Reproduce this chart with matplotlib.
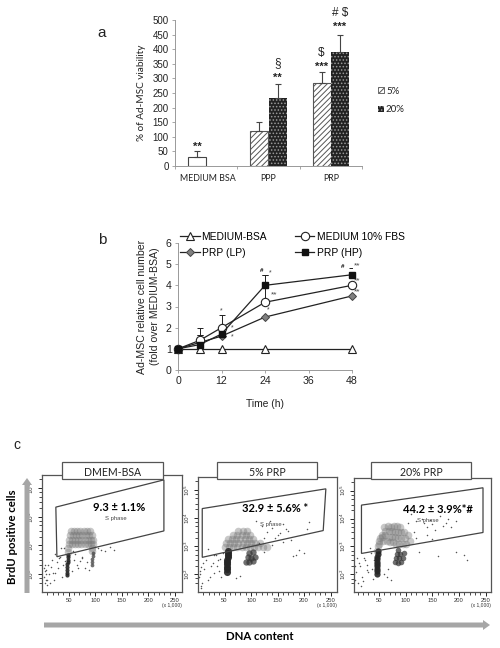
import matplotlib
matplotlib.use('Agg')
import matplotlib.pyplot as plt
from matplotlib.patches import Polygon, Rectangle, FancyArrow

W, H = 500, 648
plt.rcParams['font.family'] = ['Liberation Sans', 'DejaVu Sans']
plt.rcParams['hatch.linewidth'] = 0.7

# panel a
groups = ['MEDIUM BSA', 'PPP', 'PRP']
low_pos = [0, 1, 2]
low_vals = [30, 120, 283]
low_err = [20, 30, 40]
high_pos = [1, 2]
high_vals = [232, 390]
high_err = [50, 60]
a_marks = [(-0.147, 66, '**'), (1.147, 302, '**'), (1.853, 340, '***'), (2.147, 477, '***')]
a_signs = [(1.147, 353, '§'), (1.853, 387, '$'), (2.147, 524, '# $')]

# panel b
hours = [0, 6, 12, 24, 48]
bsa = [1, 1, 1, 1, 1]
fbs = [1, 1.4, 2, 3.2, 4]
lp = [1, 1.3, 1.6, 2.5, 3.5]
hp = [1, 1.2, 1.7, 4, 4.5]
fbs_err = [0, 0.6, 0.6, 1.3, 0]
lp_err = [0, 0.35, 0.2, 0, 0]
hp_err = [0, 0.45, 0, 0.5, 0.3]

# panel c, values (DNA x1000, log10 BrdU)
titles = ['DMEM-BSA', '5% PRP', '20% PRP']
labels = ['9.3 ± 1.1%', '32.9 ± 5.6% *', '44.2 ± 3.9%*#']
gate1 = [(26, 4.33), (229, 5.28), (229, 3.5), (28, 2.6)]
gate2 = [(8, 4.33), (241, 5.03), (236, 3.55), (8, 2.6)]
gate3 = [(17, 4.48), (245, 5.1), (245, 3.5), (17, 2.75)]
# S phase clouds
s1_x = [50, 56, 62, 68, 74, 80, 86, 92, 96,
        50, 56, 62, 68, 74, 80, 86, 92, 96,
        52, 58, 64, 70, 76, 82, 88, 94,
        54, 60, 66, 72, 78, 84, 90,
        49, 49, 94, 94]
s1_y = [3.05, 3.05, 3.05, 3.05, 3.05, 3.05, 3.05, 3.05, 3.05,
        3.2, 3.2, 3.2, 3.2, 3.2, 3.2, 3.2, 3.2, 3.2,
        3.35, 3.35, 3.35, 3.35, 3.35, 3.35, 3.35, 3.35,
        3.5, 3.5, 3.5, 3.5, 3.5, 3.5, 3.5,
        2.9, 2.75, 2.9, 2.8]
s2_x = [50, 58, 66, 74, 82, 90, 98, 106, 114, 122, 130,
        52, 60, 68, 76, 84, 92, 100, 108, 116,
        56, 64, 72, 80, 88, 96, 104,
        66, 74, 82, 90, 98,
        76, 84, 92]
s2_y = [2.95, 2.95, 2.95, 2.95, 2.95, 2.95, 2.95, 2.95, 2.95, 2.95, 2.95,
        3.1, 3.1, 3.1, 3.1, 3.1, 3.1, 3.1, 3.1, 3.1,
        3.25, 3.25, 3.25, 3.25, 3.25, 3.25, 3.25,
        3.4, 3.4, 3.4, 3.4, 3.4,
        3.52, 3.52, 3.52]
s3_x = [47, 48, 49, 50, 52, 55,
        58, 64, 70, 76, 82, 88, 94, 100,
        56, 62, 68, 74, 80, 86, 92, 98,
        62, 68, 74, 80, 86, 92, 96,
        72, 78, 84, 90,
        104, 108, 60, 66]
s3_y = [2.85, 3.0, 3.1, 3.2, 3.3, 3.35,
        3.2, 3.2, 3.15, 3.15, 3.1, 3.1, 3.1, 3.1,
        3.4, 3.4, 3.35, 3.35, 3.35, 3.3, 3.3, 3.3,
        3.55, 3.55, 3.55, 3.5, 3.5, 3.5, 3.5,
        3.68, 3.72, 3.72, 3.68,
        3.4, 3.2, 3.7, 3.75]
# G1 and G2 clusters
g1_x = [[47, 47, 47, 47, 47, 48, 48, 48, 49],
        [54, 54, 54, 55, 55, 55, 56, 56, 57, 57],
        [46, 46, 46, 46, 47, 47, 47, 47, 48, 48]]
g1_y = [[1.95, 2.05, 2.15, 2.25, 2.35, 2.42, 2.5, 2.58, 2.65],
        [2.08, 2.17, 2.26, 2.35, 2.44, 2.52, 2.6, 2.68, 2.76, 2.84],
        [2.02, 2.12, 2.2, 2.3, 2.38, 2.46, 2.55, 2.64, 2.73, 2.84]]
g2_x = [[93, 94, 94, 95, 96], [91, 97, 103, 94, 100, 108, 96, 104], [80, 86, 92, 82, 88, 94, 84, 90, 96, 86]]
g2_y = [[2.3, 2.42, 2.52, 2.62, 2.72], [2.45, 2.42, 2.48, 2.6, 2.58, 2.62, 2.75, 2.78], [2.45, 2.42, 2.45, 2.58, 2.58, 2.6, 2.72, 2.72, 2.75, 2.88]]
# sparse events
dots_x = [[3, 5, 7, 9, 12, 15, 18, 22, 25, 30, 34, 38, 42, 60, 66, 72, 80, 105, 118, 128, 135, 10, 20, 28, 36, 4, 7, 5, 6, 8, 13, 17, 24, 31, 40, 44, 56, 62, 68, 75, 84, 110, 100, 58, 76, 88],
          [2, 3, 4, 5, 6, 8, 10, 12, 16, 19, 22, 25, 28, 31, 34, 37, 40, 44, 120, 130, 150, 160, 185, 190, 200, 135, 145, 170, 6, 18, 30, 125, 175, 205, 110, 140, 155, 165, 210, 72, 80, 115, 125, 140, 160, 180, 36, 42, 48],
          [3, 4, 5, 7, 10, 12, 14, 16, 18, 21, 24, 27, 30, 34, 38, 40, 120, 130, 140, 150, 165, 175, 195, 210, 215, 125, 160, 8, 20, 28, 180, 195, 110, 115, 135, 145, 155, 170, 185, 65, 72, 105, 120, 140, 150, 33, 36, 60, 66]]
dots_y = [[1.9, 2.1, 2.0, 1.8, 2.3, 1.7, 2.5, 1.8, 2.7, 2.2, 2.6, 1.9, 2.9, 2.5, 2.3, 2.45, 2.2, 2.9, 2.8, 2.95, 2.85, 1.6, 2.05, 2.4, 2.9, 2.2, 1.8, 2.3, 1.7, 2.15, 2.0, 2.25, 2.05, 2.55, 2.3, 2.45, 2.1, 2.7, 2.2, 2.6, 2.4, 2.85, 2.95, 2.8, 2.55, 2.15],
          [1.9, 2.1, 2.0, 1.6, 2.25, 1.7, 2.4, 2.2, 2.5, 1.8, 1.9, 2.3, 2.4, 2.7, 2.7, 2.5, 2.1, 1.9, 3.7, 3.5, 3.4, 3.8, 2.7, 2.85, 2.75, 3.9, 3.3, 3.55, 1.5, 2.9, 2.05, 2.8, 3.2, 3.6, 3.9, 3.65, 3.45, 3.6, 3.85, 1.85, 1.95, 3.1, 3.3, 3.05, 3.15, 2.65, 2.3, 2.55, 2.75],
          [2.0, 1.8, 2.3, 2.1, 1.7, 2.4, 2.3, 1.6, 1.9, 2.6, 2.5, 2.15, 2.1, 2.75, 1.85, 2.5, 3.9, 4.0, 3.7, 3.8, 4.1, 3.85, 2.8, 2.7, 2.5, 2.8, 2.65, 2.6, 1.75, 2.35, 4.0, 3.9, 4.15, 3.5, 3.85, 3.95, 3.6, 3.75, 3.7, 1.9, 1.8, 3.85, 3.3, 3.4, 3.25, 2.95, 2.2, 2.0, 2.2]]

fig = plt.figure(figsize=(W / 100, H / 100), dpi=100, facecolor='white')


def px_axes(x0, y0, x1, y1):
    # y0 is the top edge, counted from the top of the picture
    return fig.add_axes([x0 / W, 1 - y1 / H, (x1 - x0) / W, (y1 - y0) / H])


# ---- panel a
ax = px_axes(175, 20, 362, 166)
ax.bar([p - 0.147 for p in low_pos[:1]], low_vals[:1], 0.29, color='white', edgecolor='#444444', lw=0.8)
ax.bar([p - 0.147 for p in low_pos[1:]], low_vals[1:], 0.29, color='white', edgecolor='#555555', hatch='//////', lw=0.8)
ax.bar([p + 0.147 for p in high_pos], high_vals, 0.29, color='#222222', edgecolor='#999999', hatch='.....', lw=0)
ax.errorbar([p - 0.147 for p in low_pos], low_vals, yerr=[[0, 0, 0], low_err], fmt='none', ecolor='#444444', elinewidth=0.8, capsize=2, capthick=0.8)
ax.errorbar([p + 0.147 for p in high_pos], high_vals, yerr=[[0, 0], high_err], fmt='none', ecolor='#444444', elinewidth=0.8, capsize=2, capthick=0.8)
ax.set_xlim(-0.5, 2.5)
ax.set_ylim(0, 500)
ax.set_yticks(range(0, 501, 50))
ax.set_xticks([-0.5, 0.5, 1.5, 2.5])
ax.set_xticklabels([])
ax.tick_params(axis='y', labelsize=7, length=2.5, width=0.6, color='#999999', pad=2, labelcolor='#222222')
ax.tick_params(axis='x', length=2.5, width=0.6, color='#999999')
for p, name in zip(low_pos, groups):
    ax.text(p + (0.02 if p == 0 else 0), -44, name, ha='center', va='center', fontsize=6.4, family='Lato', color='#222222')
for s in ['top', 'right']:
    ax.spines[s].set_visible(False)
for s in ['left', 'bottom']:
    ax.spines[s].set_color('#999999')
    ax.spines[s].set_linewidth(0.7)
ax.set_ylabel('% of Ad-MSC viability', fontsize=7.2, family='Lato', color='#222222', labelpad=5)
for x, y, t in a_marks:
    ax.text(x, y, t, ha='center', va='center', fontsize=8, fontweight='bold', color='#222222', clip_on=False)
for x, y, t in a_signs:
    ax.text(x, y, t, ha='center', va='center', fontsize=8.5, color='#222222', clip_on=False)

# ---- panel b
ax = px_axes(178, 243, 352, 370)
ax.errorbar(hours, fbs, yerr=[[0] * 5, fbs_err], color='#222222', elinewidth=0.7, capsize=2, capthick=0.7, lw=0, zorder=2)
ax.errorbar(hours, lp, yerr=[[0] * 5, lp_err], color='#222222', elinewidth=0.7, capsize=2, capthick=0.7, lw=0, zorder=2)
ax.errorbar(hours, hp, yerr=[[0] * 5, hp_err], color='#222222', elinewidth=0.7, capsize=2, capthick=0.7, lw=0, zorder=2)
l1, = ax.plot(hours, bsa, '-^', color='#222222', mfc='white', mec='#222222', ms=5.5, mew=0.8, lw=0.9, clip_on=False, zorder=3)
l3, = ax.plot(hours, lp, '-D', color='#222222', mfc='#808080', mec='#444444', ms=4, mew=0.7, lw=0.9, clip_on=False, zorder=4)
l2, = ax.plot(hours, fbs, '-o', color='#222222', mfc='white', mec='#222222', ms=6, mew=0.8, lw=0.9, clip_on=False, zorder=5)
l4, = ax.plot(hours, hp, '-s', color='#222222', mfc='#111111', mec='#111111', ms=4.5, lw=0.9, clip_on=False, zorder=6)
ax.set_xlim(0, 48)
ax.set_ylim(0, 6)
ax.set_xticks(range(0, 49, 12))
ax.set_yticks(range(0, 7))
ax.tick_params(labelsize=7.6, length=2.5, width=0.6, color='#999999', pad=2, labelcolor='#222222')
for s in ['top', 'right']:
    ax.spines[s].set_visible(False)
for s in ['left', 'bottom']:
    ax.spines[s].set_color('#999999')
    ax.spines[s].set_linewidth(0.7)
ax.set_xlabel('Time (h)', fontsize=7.4, labelpad=9, color='#222222')
ax.set_ylabel('Ad-MSC relative cell number\n(fold over MEDIUM-BSA)', fontsize=7.6, linespacing=1.45, labelpad=4, color='#222222')
fig.legend([l1, l3, l2, l4], ['MEDIUM-BSA', 'PRP (LP)', 'MEDIUM 10% FBS', 'PRP (HP)'], ncol=2, frameon=False,
           loc='upper left', bbox_to_anchor=(180 / W, 1 - 232 / H), fontsize=7.4, handlelength=1.9,
           columnspacing=2.7, labelspacing=0.55, handletextpad=0.2, borderpad=0, borderaxespad=0)
for x, y, t in [(23, 4.7, '#'), (45.5, 4.9, '#')]:
    ax.text(x, y, t, fontsize=4.5, fontweight='bold', ha='center', va='center', clip_on=False)
for x, y, t in [(12, 2.8, '*'), (25.5, 4.6, '*'), (15, 2.0, '*'), (15, 1.55, '*'), (25, 2.85, '*'),
                (26.5, 3.55, '**'), (49.5, 4.9, '**'), (49.5, 4.2, '**'), (49.5, 3.7, '**')]:
    ax.text(x, y, t, fontsize=6 if len(t) > 1 else 5, ha='center', va='center', color='#444444', clip_on=False)

# ---- panel c
boxes = [(42, 475, 182, 592), (198, 477, 337, 592), (354, 478, 491, 592)]
x_ranges = [(0, 263), (0, 262), (3, 260)]
gates = [gate1, gate2, gate3]
s_x = [s1_x, s2_x, s3_x]
s_y = [s1_y, s2_y, s3_y]
g1_size = [9, 26, 20]
text_pos = [(145, 4.3), (146, 4.33), (161, 4.33)]
tag_pos = [(139, 3.92), (137, 3.78), (142, 3.92)]
for i, box in enumerate(boxes):
    ax = px_axes(*box)
    ax.scatter(s_x[i], s_y[i], s=30, color='#777777', alpha=0.4, lw=0, zorder=2)
    ax.scatter(g1_x[i], g1_y[i], s=g1_size[i], color='#262626', alpha=0.9, lw=0, zorder=3)
    ax.scatter(g2_x[i], g2_y[i], s=g1_size[i] * 0.8, color='#333333', alpha=0.7, lw=0, zorder=3)
    ax.scatter(dots_x[i], dots_y[i], s=1.2, color='#555555', lw=0, zorder=2)
    ax.add_patch(Polygon(gates[i], closed=True, fill=False, edgecolor='#444444', lw=0.9, zorder=4))
    ax.set_xlim(*x_ranges[i])
    ax.set_ylim(1.37, 5.45)
    ax.set_xticks(range(50, 251, 50))
    ax.set_xticks(range(10, 260, 10), minor=True)
    ax.set_yticks([2, 3, 4, 5])
    ax.set_yticks([1.7, 1.85, 2.3, 2.5, 2.7, 2.85, 3.3, 3.5, 3.7, 3.85, 4.3, 4.5, 4.7, 4.85, 5.3], minor=True)
    ax.set_yticklabels(['$10^2$', '$10^3$', '$10^4$', '$10^5$'], rotation=90, va='center')
    ax.tick_params(labelsize=4.2, length=3, width=0.6, pad=1.5, labelcolor='#333333')
    ax.tick_params(which='minor', length=2, width=0.5)
    for s in ax.spines.values():
        s.set_color('#555555')
        s.set_linewidth(0.9)
    ax.text(text_pos[i][0], text_pos[i][1], labels[i], fontsize=8, fontweight='bold', ha='center', va='center', family='Lato', zorder=6)
    ax.text(tag_pos[i][0], tag_pos[i][1], 'S phase', fontsize=4.2, ha='center', va='center', color='#444444', zorder=6)
    ax.text(1.0, -0.115, '(x 1,000)', transform=ax.transAxes, fontsize=3.6, ha='right', va='center', color='#333333')

# header boxes, arrows, letters in picture pixels
over = fig.add_axes([0, 0, 1, 1], zorder=10)
over.set_xlim(0, W)
over.set_ylim(H, 0)
over.axis('off')
for x0, x1, t in [(62, 163, titles[0]), (217, 317, titles[1]), (371, 471, titles[2])]:
    over.add_patch(Rectangle((x0, 462), x1 - x0, 17, facecolor='white', edgecolor='#555555', lw=0.9))
    over.text((x0 + x1) / 2, 473, t, fontsize=7.6, family='Lato', ha='center', va='center', color='#222222')
over.add_patch(FancyArrow(27, 593, 0, -115, width=5, head_width=10, head_length=7, length_includes_head=True, color='#a6a6a6', lw=0))
over.add_patch(FancyArrow(44, 625, 446, 0, width=5, head_width=10, head_length=7, length_includes_head=True, color='#a6a6a6', lw=0))
over.text(13, 537, 'BrdU positive cells', rotation=90, fontsize=8.2, fontweight='bold', family='Lato', ha='center', va='center')
over.text(260, 636, 'DNA content', fontsize=8.2, fontweight='bold', family='Lato', ha='center', va='center')
over.text(102, 33, 'a', fontsize=11, ha='center', va='center', color='#222222')
over.text(102, 240, 'b', fontsize=11, ha='center', va='center', color='#222222')
over.text(17, 445, 'c', fontsize=10, ha='center', va='center', color='#222222')
# panel a legend
over.add_patch(Rectangle((378, 87), 6, 6, facecolor='white', edgecolor='#555555', hatch='//////', lw=0.6))
over.add_patch(Rectangle((378, 106), 6, 6, facecolor='#222222', edgecolor='#999999', hatch='.....', lw=0))
over.text(386, 91, '5%', fontsize=7, family='Lato', va='center', color='#222222')
over.text(386, 109.5, '20%', fontsize=7, family='Lato', va='center', color='#222222')

fig.savefig('out.png', dpi=100)
